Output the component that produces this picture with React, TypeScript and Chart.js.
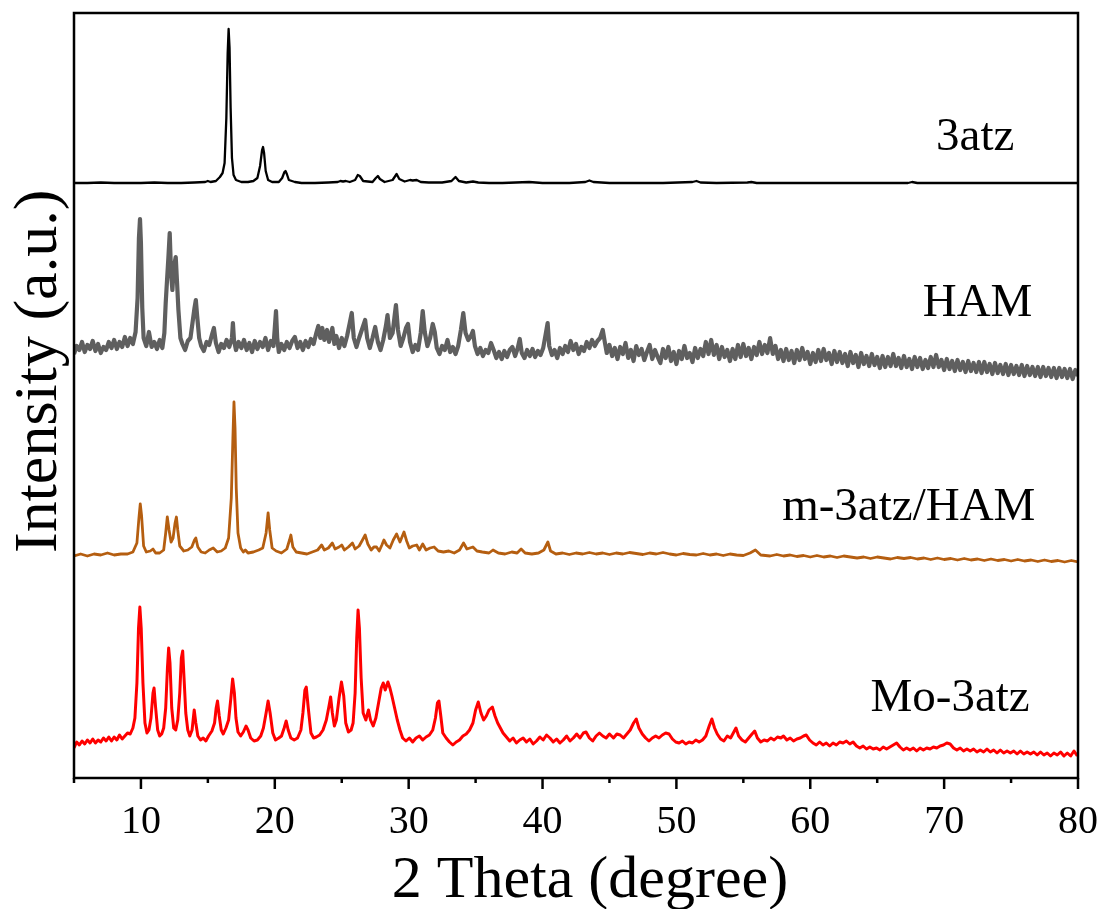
import React, { useEffect, useRef } from "react";
import { Chart, registerables } from "chart.js";

Chart.register(...registerables);

// ---- Data (2θ in degrees, intensity in a.u.) ----
const seriesNames = ["3atz", "HAM", "m-3atz/HAM", "Mo-3atz"];
const xAxisTitle = "2 Theta (degree)";
const yAxisTitle = "Intensity (a.u.)";
const xMin = 5;
const xMax = 80;
const xTickStep = 5;
const yMin = 0;
const yMax = 765;

const pattern3atz: [number, number][] = [
  [5,595],[6,595],[7,595.5],[8,595],[9,595],[10,595],[11,595.5],[12,595],[13,595],[14,595.5],[14.8,596],[15.0,597],[15.2,596],[15.6,597],[15.9,601],[16.1,605],[16.25,615],[16.38,660],[16.48,725],[16.55,749],[16.62,730],[16.7,670],[16.8,620],[16.92,603],[17.1,598],[17.5,596],[18.0,596],[18.4,597],[18.7,600],[18.9,612],[19.05,628],[19.12,631],[19.2,625],[19.32,607],[19.5,598],[19.8,596],[20.3,596],[20.55,600],[20.72,606],[20.8,607],[20.9,604],[21.05,598],[21.5,596],[22,595],[23,595],[24,595.5],[24.7,596],[24.9,597],[25.1,596.5],[25.3,597],[25.6,596],[26.0,598],[26.2,603],[26.35,602],[26.6,597],[27.3,596],[27.55,600],[27.7,602],[27.85,599],[28.2,596],[28.8,598],[29.1,604],[29.3,599],[29.7,596.5],[30.1,598],[30.3,597.5],[30.6,598],[30.9,596],[31.5,595.5],[32.5,595.5],[33.2,597],[33.5,601],[33.75,597],[34.3,595.5],[34.8,596.5],[35.2,595.5],[36,595],[37,595],[38,595.5],[39,596],[40,595],[41,595],[42,595],[43.2,596],[43.5,597.5],[43.8,596],[45,595],[47,595],[49,595],[51.2,596],[51.5,597],[51.8,595.5],[53,595],[55.3,595.5],[55.6,596],[56,595],[58,595],[60,595],[62,595],[64,595],[67.3,595],[67.6,596],[68,595],[70,595],[72,595],[74,595],[76,595],[78,595],[80,595]
];

const patternHAM: [number, number][] = [
  [5,424],[5.2,432],[5.4,428],[5.6,436],[5.8,426],[6.0,433],[6.2,429],[6.4,437],[6.6,427],[6.8,434],[7.0,425],[7.2,431],[7.4,428],[7.6,436],[7.8,430],[8.0,438],[8.2,429],[8.4,436],[8.6,431],[8.8,441],[9.0,432],[9.2,440],[9.4,434],[9.6,446],[9.75,480],[9.85,540],[9.93,559],[10.0,535],[10.1,470],[10.2,440],[10.4,432],[10.6,446],[10.8,431],[11.0,436],[11.2,429],[11.4,438],[11.6,430],[11.75,445],[11.85,475],[11.95,498],[12.05,520],[12.15,545],[12.25,505],[12.35,488],[12.45,510],[12.6,521],[12.7,495],[12.8,468],[12.95,440],[13.1,434],[13.3,428],[13.5,437],[13.7,440],[13.85,455],[14.0,470],[14.1,478],[14.2,462],[14.35,440],[14.5,432],[14.7,427],[14.9,436],[15.1,433],[15.3,443],[15.45,450],[15.6,435],[15.8,426],[16.0,434],[16.2,430],[16.4,438],[16.6,431],[16.8,440],[16.87,455],[16.95,438],[17.1,428],[17.3,436],[17.5,430],[17.7,438],[17.9,428],[18.1,435],[18.3,426],[18.5,437],[18.7,429],[18.9,436],[19.1,431],[19.3,440],[19.5,428],[19.7,437],[19.9,432],[20.0,450],[20.09,467],[20.18,440],[20.3,426],[20.5,434],[20.7,428],[20.9,436],[21.1,430],[21.3,437],[21.5,441],[21.7,430],[21.9,436],[22.1,428],[22.3,437],[22.5,431],[22.7,439],[22.9,434],[23.1,445],[23.25,452],[23.4,440],[23.55,450],[23.7,438],[23.9,448],[24.05,436],[24.3,450],[24.45,434],[24.6,442],[24.8,430],[25.0,440],[25.2,432],[25.4,442],[25.6,455],[25.75,465],[25.9,440],[26.1,431],[26.3,440],[26.5,448],[26.75,458],[26.9,440],[27.1,430],[27.3,440],[27.5,451],[27.7,436],[27.9,428],[28.1,438],[28.3,452],[28.42,463],[28.6,440],[28.8,445],[28.95,462],[29.05,473],[29.2,448],[29.4,432],[29.6,440],[29.8,450],[29.95,454],[30.1,436],[30.3,426],[30.5,433],[30.7,428],[30.9,445],[31.05,467],[31.2,446],[31.4,432],[31.6,440],[31.8,454],[31.95,446],[32.1,430],[32.3,424],[32.5,432],[32.7,428],[32.9,438],[33.1,426],[33.3,431],[33.5,424],[33.7,432],[33.9,448],[34.08,465],[34.25,445],[34.45,438],[34.65,442],[34.8,447],[34.95,432],[35.15,424],[35.35,430],[35.55,422],[35.75,428],[35.95,425],[36.15,435],[36.35,428],[36.55,420],[36.75,426],[36.95,419],[37.15,427],[37.35,421],[37.55,428],[37.75,431],[37.95,422],[38.15,430],[38.3,439],[38.45,425],[38.65,420],[38.85,428],[39.05,422],[39.25,429],[39.45,421],[39.65,427],[39.85,423],[40.05,430],[40.25,445],[40.38,455],[40.5,432],[40.7,423],[40.9,428],[41.1,420],[41.3,430],[41.5,424],[41.7,432],[41.9,426],[42.1,437],[42.3,428],[42.5,434],[42.7,424],[42.9,431],[43.1,427],[43.3,436],[43.5,430],[43.7,438],[43.9,432],[44.1,437],[44.3,440],[44.5,448],[44.65,436],
  [44.8,425],[45.0,433],[45.2,422],[45.4,430],[45.6,419],[45.8,431],[46.0,424],[46.2,435],[46.4,420],[46.6,428],[46.8,417],[47.0,432],[47.2,423],[47.4,429],[47.6,418],[47.8,426],[48.0,433],[48.2,419],[48.4,428],[48.6,421],[48.8,415],[49.0,429],[49.2,420],[49.4,431],[49.6,417],[49.8,426],[50.0,414],[50.2,427],[50.4,419],[50.6,432],[50.8,420],[51.0,425],[51.2,416],[51.4,430],[51.6,420],[51.8,429],[52.0,422],[52.2,436],[52.4,424],[52.6,438],[52.8,423],[53.0,433],[53.2,419],[53.4,431],[53.6,421],[53.8,428],[54.0,417],[54.2,429],[54.4,419],[54.6,433],[54.8,421],[55.0,434],[55.2,422],[55.4,430],[55.6,419],[55.8,431],[56.0,423],[56.2,436],[56.4,424],[56.6,433],[56.8,425],[57.0,440],[57.2,424],[57.4,432],[57.6,419],[57.8,428],[58.0,417],[58.2,429],[58.4,418],[58.6,427],[58.8,415],[59.0,428],[59.2,418],[59.4,430],[59.6,419],[59.8,426],[60.0,414],[60.2,425],[60.4,416],[60.6,428],[60.8,417],[61.0,429],[61.2,418],[61.4,425],[61.6,414],[61.8,427],[62.0,416],[62.2,426],[62.4,415],[62.6,424],[62.8,412],[63.0,426],[63.2,415],[63.4,423],[63.6,411],[63.8,425],[64.0,414],[64.2,422],[64.4,412],[64.6,424],[64.8,413],[65.0,421],[65.2,410],[65.4,422],[65.6,411],[65.8,421],[66.0,412],[66.2,424],[66.4,412],[66.6,420],[66.8,410],[67.0,422],[67.2,411],[67.4,419],[67.6,409],[67.8,421],[68.0,411],[68.2,420],[68.4,409],[68.6,418],[68.8,410],[69.0,421],[69.2,411],[69.4,423],[69.6,411],[69.8,418],[70.0,408],[70.2,419],[70.4,409],[70.6,417],[70.8,407],[71.0,418],[71.2,408],[71.4,416],[71.6,406],[71.8,417],[72.0,407],[72.2,415],[72.4,406],[72.6,416],[72.8,405],[73.0,416],[73.2,406],[73.4,414],[73.6,404],[73.8,415],[74.0,405],[74.2,413],[74.4,404],[74.6,414],[74.8,403],[75.0,413],[75.2,404],[75.4,412],[75.6,403],[75.8,413],[76.0,402],[76.2,412],[76.4,403],[76.6,411],[76.8,402],[77.0,411],[77.2,401],[77.4,411],[77.6,402],[77.8,410],[78.0,401],[78.2,410],[78.4,400],[78.6,410],[78.8,401],[79.0,409],[79.2,400],[79.4,409],[79.6,399],[79.8,408],[80.0,402]
];

const patternM3atzHAM: [number, number][] = [
  [5,222],[5.5,224],[6,222],[6.5,224],[7,223],[7.5,225],[8,223],[8.5,224],[9,224],[9.4,226],[9.7,235],[9.85,260],[9.95,274],[10.05,262],[10.2,232],[10.4,226],[10.7,227],[10.9,229],[11.1,225],[11.4,225],[11.7,228],[11.85,245],[11.97,261],[12.1,248],[12.25,236],[12.4,240],[12.55,255],[12.65,261],[12.75,248],[12.9,232],[13.2,227],[13.5,228],[13.8,231],[14.0,238],[14.1,240],[14.25,231],[14.5,226],[14.8,225],[15.1,228],[15.4,230],[15.7,226],[16.0,227],[16.3,230],[16.55,240],[16.75,280],[16.87,340],[16.95,376],[17.03,350],[17.12,290],[17.25,245],[17.45,230],[17.65,226],[17.8,228],[18.0,225],[18.4,226],[18.8,228],[19.1,230],[19.35,245],[19.5,265],[19.62,248],[19.8,230],[20.1,227],[20.5,225],[20.9,229],[21.1,238],[21.2,243],[21.35,231],[21.6,226],[22.0,225],[22.4,224],[22.8,226],[23.2,228],[23.5,233],[23.7,228],[24.0,230],[24.3,235],[24.5,229],[24.8,231],[25.0,233],[25.2,228],[25.5,231],[25.8,235],[26.0,229],[26.3,232],[26.55,238],[26.75,243],[26.95,234],[27.2,228],[27.4,231],[27.6,231],[27.8,227],[28.0,233],[28.15,238],[28.35,233],[28.6,230],[28.85,238],[29.1,244],[29.35,236],[29.65,246],[29.85,237],[30.05,230],[30.3,232],[30.6,233],[30.8,228],[31.05,234],[31.3,228],[31.6,230],[31.9,231],[32.2,227],[32.6,226],[33.0,227],[33.4,225],[33.8,228],[34.1,235],[34.35,229],[34.8,231],[35.1,227],[35.5,226],[36.0,225],[36.3,228],[36.7,225],[37.2,224],[37.7,226],[38.1,225],[38.4,229],[38.7,225],[39.2,224],[39.7,225],[40.1,228],[40.4,236],[40.6,227],[41.0,224],[41.5,225],[42.0,223.5],[42.5,225],[43.0,224],[43.5,225.5],[44.0,224],[44.5,225],[45.0,223.5],[45.5,225],[46.0,224],[46.5,225.5],[47.0,224.5],[47.5,223.5],[48.0,225],[48.5,224],[49.0,225.5],[49.5,224],[50.0,223],[50.5,224.5],[51.0,223.5],[51.5,223],[52.0,224.5],[52.5,223],[53.0,224],[53.5,222.5],[54.0,224],[54.5,223],[55.0,222.5],[55.5,225],[55.9,228],[56.3,223],[57.0,222],[57.5,223.5],[58.0,222],[58.5,223],[59.0,221.5],[59.5,222.5],[60.0,221],[60.5,222.5],[61.0,221],[61.5,222],[62.0,220.5],[62.5,222],[63.0,221],[63.5,220],[64.0,221],[64.5,219.5],[65.0,221],[65.5,220],[66.0,219],[66.5,220.5],[67.0,219.5],[67.5,220.5],[68.0,219],[68.5,220],[69.0,218.5],[69.5,220],[70.0,218.5],[70.5,219.5],[71.0,218],[71.5,219.5],[72.0,218],[72.5,219],[73.0,217.5],[73.5,219],[74.0,217.5],[74.5,218.5],[75.0,217],[75.5,218.5],[76.0,217],[76.5,218],[77.0,216.5],[77.5,218],[78.0,216.5],[78.5,217.5],[79.0,216],[79.5,217.5],[80.0,216]
];

const patternMo3atz: [number, number][] = [
  [5,30],[5.2,36],[5.4,33],[5.6,37],[5.8,34],[6.0,38],[6.2,35],[6.4,39],[6.6,35],[6.8,38],[7.0,36],[7.2,40],[7.4,37],[7.6,41],[7.8,37],[8.0,41],[8.2,38],[8.4,43],[8.6,39],[8.8,42],[9.0,45],[9.2,44],[9.4,50],[9.55,60],[9.7,95],[9.82,150],[9.92,171],[10.02,150],[10.15,95],[10.3,55],[10.45,45],[10.6,48],[10.75,60],[10.9,85],[10.98,90],[11.1,70],[11.25,48],[11.4,42],[11.55,44],[11.7,50],[11.85,70],[11.98,110],[12.07,130],[12.17,115],[12.3,70],[12.45,50],[12.6,48],[12.75,58],[12.9,85],[13.02,120],[13.12,127],[13.22,100],[13.35,65],[13.5,48],[13.65,42],[13.82,48],[13.98,68],[14.1,55],[14.25,42],[14.45,38],[14.65,40],[14.85,37],[15.05,42],[15.3,47],[15.5,55],[15.62,70],[15.72,77],[15.85,62],[16.0,48],[16.15,44],[16.35,50],[16.55,58],[16.72,80],[16.85,99],[16.98,85],[17.1,60],[17.25,46],[17.45,42],[17.65,46],[17.85,52],[18.0,48],[18.2,40],[18.45,37],[18.7,38],[18.95,42],[19.15,50],[19.35,65],[19.5,77],[19.65,65],[19.85,45],[20.05,38],[20.3,40],[20.5,42],[20.7,50],[20.85,57],[21.0,48],[21.2,40],[21.45,38],[21.7,40],[21.95,48],[22.1,65],[22.25,88],[22.35,91],[22.5,70],[22.7,45],[22.9,40],[23.1,41],[23.35,43],[23.6,48],[23.85,58],[24.05,72],[24.17,81],[24.3,65],[24.45,52],[24.6,58],[24.8,80],[24.98,96],[25.15,82],[25.3,55],[25.5,46],[25.7,48],[25.85,55],[26.0,85],[26.12,140],[26.22,168],[26.32,150],[26.45,100],[26.6,65],[26.8,58],[27.0,68],[27.15,58],[27.35,52],[27.55,60],[27.75,75],[27.95,90],[28.1,95],[28.25,88],[28.45,96],[28.6,90],[28.75,82],[28.95,70],[29.15,58],[29.35,48],[29.55,40],[29.8,37],[30.05,40],[30.3,36],[30.55,40],[30.8,42],[31.05,38],[31.3,41],[31.55,43],[31.8,48],[32.0,60],[32.15,75],[32.26,77],[32.4,62],[32.55,45],[32.8,40],[33.05,36],[33.3,33],[33.55,36],[33.8,38],[34.05,42],[34.3,44],[34.55,48],[34.8,55],[35.0,68],[35.2,76],[35.4,65],[35.6,58],[35.8,62],[36.0,68],[36.25,71],[36.45,62],[36.65,55],[36.85,50],[37.05,45],[37.3,41],[37.55,37],[37.8,40],[38.05,35],[38.3,38],[38.55,40],[38.8,36],[39.05,39],[39.3,34],[39.55,37],[39.8,41],[40.05,38],[40.3,43],[40.55,40],[40.8,36],[41.05,39],[41.3,35],[41.55,38],[41.8,42],[42.05,37],[42.3,40],[42.55,44],[42.8,40],[43.05,45],[43.25,46],[43.5,40],[43.75,37],[44.0,42],[44.25,45],[44.5,42],[44.75,40],[45.0,44],[45.3,40],[45.55,44],[45.8,43],[46.05,40],[46.3,44],[46.55,48],[46.8,55],[47.0,59],[47.2,50],[47.45,44],[47.7,40],[47.95,37],[48.2,40],[48.45,42],[48.7,40],[48.95,43],[49.2,45],[49.45,44],[49.7,39],[49.95,36],[50.2,35],[50.45,37],[50.7,34],[50.95,36],[51.2,35],[51.45,38],[51.7,36],[51.95,38],[52.2,42],[52.45,52],[52.65,59],[52.85,50],[53.05,44],[53.3,39],[53.55,37],[53.8,42],[54.05,40],[54.25,45],[54.45,50],[54.65,42],[54.9,38],[55.15,36],[55.4,40],[55.65,44],[55.85,47],[56.05,40],[56.3,36],[56.55,38],[56.8,37],[57.05,40],[57.3,38],[57.55,41],[57.8,40],[58.0,42],[58.25,38],[58.5,40],[58.75,37],[59.0,39],[59.25,40],[59.5,42],[59.7,43],[59.95,38],[60.2,35],[60.45,33],[60.7,36],[60.95,33],[61.2,35],[61.45,32],[61.7,35],[61.95,33],[62.2,36],[62.45,35],[62.7,37],[62.95,34],[63.2,36],[63.45,32],[63.7,30],[63.95,32],[64.2,29],[64.45,31],[64.7,29],[64.95,30],[65.2,28],[65.45,31],[65.7,29],[65.95,31],[66.2,33],[66.45,35],[66.7,31],[66.95,28],[67.2,30],[67.45,28],[67.7,30],[67.95,27],[68.2,30],[68.45,28],[68.7,30],[68.95,29],[69.2,31],[69.45,30],[69.7,32],[69.95,33],[70.2,35],[70.45,34],[70.7,30],[70.95,28],[71.2,30],[71.45,27],[71.7,29],[71.95,27],[72.2,29],[72.45,26],[72.7,28],[72.95,26],[73.2,29],[73.45,26],[73.7,28],[73.95,25],[74.2,28],[74.45,25],[74.7,27],[74.95,25],[75.2,27],[75.45,24],[75.7,27],[75.95,24],[76.2,26],[76.45,24],[76.7,26],[76.95,23],[77.2,26],[77.45,23],[77.7,25],[77.95,22],[78.2,25],[78.45,23],[78.7,26],[78.95,22],[79.2,25],[79.45,22],[79.7,27],[79.95,22]
];

const patterns = [pattern3atz, patternHAM, patternM3atzHAM, patternMo3atz];

// ---- Styling ----
const seriesColors = ["#000000", "#5f5f5f", "#B55E10", "#FF0000"];
const seriesWidths = [2.3, 4.2, 2.8, 3.0];
const SERIF = '"Liberation Serif", "Times New Roman", serif';
// label anchors (in data units: 2θ, intensity) for the series names
const nameAnchors: [number, number][] = [[69.4, 628], [68.4, 462], [57.9, 258], [64.5, 67]];

const decorPlugin = {
  id: "decor",
  afterDraw(chart: any) {
    const { ctx, chartArea: a, scales } = chart;
    const xs = scales.x;
    const ys = scales.y;
    ctx.save();
    ctx.strokeStyle = "#000";
    ctx.lineWidth = 2.5;
    ctx.strokeRect(a.left, a.top, a.right - a.left, a.bottom - a.top);
    ctx.lineCap = "butt";
    for (const t of xs.ticks) {
      const px = xs.getPixelForValue(t.value);
      const len = t.value % 10 === 0 ? 11 : 5;
      ctx.beginPath();
      ctx.moveTo(px, a.bottom);
      ctx.lineTo(px, a.bottom + len);
      ctx.stroke();
    }
    ctx.fillStyle = "#000";
    ctx.font = `47px ${SERIF}`;
    ctx.textAlign = "left";
    ctx.textBaseline = "alphabetic";
    seriesNames.forEach((n, i) => {
      ctx.fillText(n, xs.getPixelForValue(nameAnchors[i][0]), ys.getPixelForValue(nameAnchors[i][1]));
    });
    ctx.font = `60px ${SERIF}`;
    ctx.textAlign = "center";
    ctx.fillText(xAxisTitle, (a.left + a.right) / 2 + 14, a.bottom + 119);
    ctx.font = `62px ${SERIF}`;
    ctx.translate(a.left - 18, a.bottom - 225);
    ctx.rotate(-Math.PI / 2);
    ctx.textAlign = "left";
    ctx.fillText(yAxisTitle, 0, 0);
    ctx.restore();
  },
};

export default function App() {
  const ref = useRef<HTMLCanvasElement | null>(null);
  useEffect(() => {
    if (!ref.current) return;
    const chart = new Chart(ref.current, {
      type: "line",
      data: {
        datasets: patterns.map((p, i) => ({
          label: seriesNames[i],
          data: p.map(([x, y]) => ({ x, y })),
          borderColor: seriesColors[i],
          borderWidth: seriesWidths[i],
          pointRadius: 0,
          tension: 0,
          fill: false,
          borderJoinStyle: "round" as const,
        })),
      },
      options: {
        responsive: false,
        animation: false,
        events: [],
        layout: { padding: { left: 74, top: 13, right: 27, bottom: 0 } },
        plugins: { legend: { display: false }, tooltip: { enabled: false } },
        scales: {
          x: {
            type: "linear",
            min: xMin,
            max: xMax,
            grid: { display: false, drawTicks: true, tickLength: 15 },
            border: { display: false },
            ticks: {
              stepSize: xTickStep,
              autoSkip: false,
              maxRotation: 0,
              padding: 5,
              color: "#000",
              font: { family: SERIF, size: 40 },
              callback: (v: any) => (Number(v) % 10 === 0 ? String(v) : ""),
            },
            afterFit: (s: any) => {
              s.height = 131;
            },
          },
          y: {
            display: false,
            min: yMin,
            max: yMax,
          },
        },
      },
      plugins: [decorPlugin],
    });
    return () => chart.destroy();
  }, []);
  return (
    <div style={{ position: "absolute", left: 0, top: 0, width: 1105, height: 909, background: "#fff" }}>
      <canvas ref={ref} width={1105} height={909} />
    </div>
  );
}
